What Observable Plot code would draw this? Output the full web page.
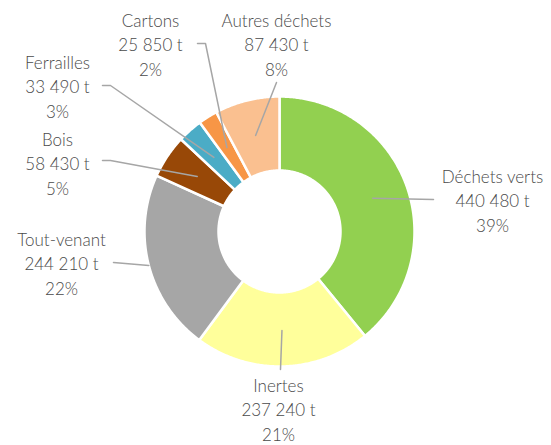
<!DOCTYPE html>
<html>
<head>
<meta charset="utf-8">
<script src="https://cdn.jsdelivr.net/npm/d3@7"></script>
<script src="https://cdn.jsdelivr.net/npm/@observablehq/plot@0.6"></script>
<style>
  html, body { margin: 0; padding: 0; background: #fff; }
  svg { display: block; }
</style>
</head>
<body>
<div id="chart"></div>
<script>
// ---- data ----
const categories = ["Déchets verts", "Inertes", "Tout-venant", "Bois", "Ferrailles", "Cartons", "Autres déchets"];
const tonnages = [440480, 237240, 244210, 58430, 33490, 25850, 87430];
const colors = ["#92D050", "#FFFF9B", "#A6A6A6", "#984807", "#4BACC6", "#F79646", "#FAC090"];

// ---- layout (pixels) ----
const W = 551, H = 445;
const cx = 279, cy = 231, rOuter = 135, rInner = 61;
const labelPos = [[492, 199], [278, 408], [61, 262], [57, 162], [57, 85], [150, 43], [276, 43]];
const leaderStart = [[433, 199], [280, 369], [113, 262], [102, 160], [102, 85], [197, 43], [276, 82]];
const leaderElbow = [null, null, null, [110, 160], [110, 85], [205, 43], null];
const leaderRadius = [99, 99, 135, 99, 99, 99, 99];

const total = d3.sum(tonnages);
const locale = d3.formatLocale({thousands: " ", grouping: [3], decimal: ",", currency: ["", ""]});
const fmt = locale.format(",d");

const arcs = d3.pie().sort(null).value(d => d)(tonnages);

// slice polygons
const slicePts = [];
arcs.forEach((a, i) => {
  const n = Math.max(4, Math.ceil((a.endAngle - a.startAngle) / (Math.PI / 360)));
  for (let k = 0; k <= n; k++) {
    const t = a.startAngle + (a.endAngle - a.startAngle) * k / n;
    slicePts.push({cat: categories[i], x: cx + rOuter * Math.sin(t), y: cy - rOuter * Math.cos(t)});
  }
  for (let k = n; k >= 0; k--) {
    const t = a.startAngle + (a.endAngle - a.startAngle) * k / n;
    slicePts.push({cat: categories[i], x: cx + rInner * Math.sin(t), y: cy - rInner * Math.cos(t)});
  }
});

// leader lines
const leaderPts = [];
arcs.forEach((a, i) => {
  const mid = (a.startAngle + a.endAngle) / 2;
  const r = leaderRadius[i];
  leaderPts.push({cat: categories[i], x: leaderStart[i][0], y: leaderStart[i][1]});
  if (leaderElbow[i]) leaderPts.push({cat: categories[i], x: leaderElbow[i][0], y: leaderElbow[i][1]});
  leaderPts.push({cat: categories[i], x: cx + r * Math.sin(mid), y: cy - r * Math.cos(mid)});
});

const labels = categories.map((c, i) => ({
  cat: c,
  x: labelPos[i][0],
  y: labelPos[i][1],
  text: `${c}\n${fmt(tonnages[i])} t\n${Math.round(tonnages[i] / total * 100)}%`
}));

const chart = Plot.plot({
  width: W,
  height: H,
  margin: 0,
  x: {domain: [0, W], axis: null},
  y: {domain: [0, H], reverse: true, axis: null},
  color: {domain: categories, range: colors},
  style: {background: "#fff"},
  marks: [
    Plot.line(slicePts, {x: "x", y: "y", z: "cat", fill: "cat", stroke: "#fff", strokeWidth: 2.5, curve: "linear-closed"}),
    Plot.line(leaderPts, {x: "x", y: "y", z: "cat", stroke: "#A6A6A6", strokeWidth: 1.5}),
    Plot.text(labels, {x: "x", y: "y", text: "text", fontSize: 17, lineHeight: 1.44, fill: "#4a4a4a", fontFamily: "Lato", fontWeight: 300, textAnchor: "middle"})
  ]
});
document.getElementById("chart").appendChild(chart);
</script>
</body>
</html>
